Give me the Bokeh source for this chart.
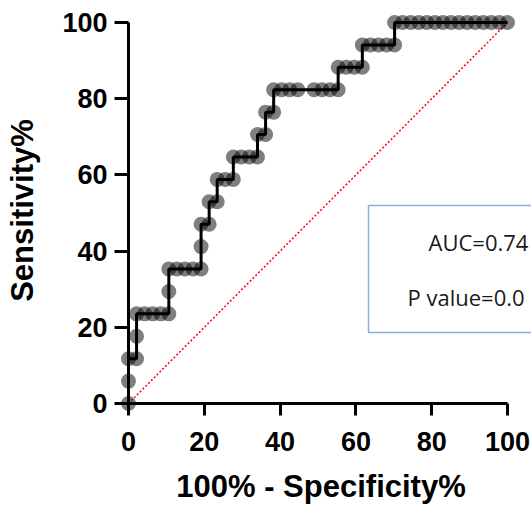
from bokeh.plotting import figure
from bokeh.models import Range1d, LinearAxis, FixedTicker, Label
from bokeh.embed import file_html
from bokeh.resources import INLINE

# ROC points: 100% - Specificity% (x) and Sensitivity% (y)
fpr = [0, 0, 0, 2.13, 2.13, 2.13, 4.26, 6.38, 8.51, 10.64,
       10.64, 10.64, 12.77, 14.89, 17.02, 19.15, 19.15, 19.15, 21.28, 21.28,
       23.40, 23.40, 25.53, 27.66, 27.66, 29.79, 31.91, 34.04, 34.04, 36.17,
       36.17, 38.30, 38.30, 40.43, 42.55, 44.68, 48.94, 51.06, 53.19, 55.32,
       55.32, 57.45, 59.57, 61.70, 61.70, 63.83, 65.96, 68.09, 70.21, 70.21,
       72.34, 74.47, 76.60, 78.72, 80.85, 82.98, 85.11, 87.23, 89.36, 91.49,
       93.62, 95.74, 97.87, 100]
tpr = [0, 5.88, 11.76, 11.76, 17.65, 23.53, 23.53, 23.53, 23.53, 23.53,
       29.41, 35.29, 35.29, 35.29, 35.29, 35.29, 41.18, 47.06, 47.06, 52.94,
       52.94, 58.82, 58.82, 58.82, 64.71, 64.71, 64.71, 64.71, 70.59, 70.59,
       76.47, 76.47, 82.35, 82.35, 82.35, 82.35, 82.35, 82.35, 82.35, 82.35,
       88.24, 88.24, 88.24, 88.24, 94.12, 94.12, 94.12, 94.12, 94.12, 100,
       100, 100, 100, 100, 100, 100, 100, 100, 100, 100,
       100, 100, 100, 100]
chance_x = [0, 100]
chance_y = [0, 100]
ticks = [0, 20, 40, 60, 80, 100]
x_title = "100% - Specificity%"
y_title = "Sensitivity%"
auc_text = "AUC=0.74"
p_text = "P value=0.0"

# pixel layout
W, H = 531, 510
BL, BR, BT, BB = 110, 0, 5, 95
X0PX, X100PX = 128, 507
Y0PX, Y100PX = 403, 22
sx = (X100PX - X0PX) / 100.0
sy = (Y0PX - Y100PX) / 100.0
xs = (BL - X0PX) / sx
xe = xs + (W - BL - BR) / sx
ye = 100 + (Y100PX - BT) / sy
ys = ye - (H - BT - BB) / sy

p = figure(width=W, height=H, x_range=Range1d(xs, xe), y_range=Range1d(ys, ye),
           x_axis_type=None, y_axis_type=None,
           min_border_left=BL, min_border_right=BR, min_border_top=BT, min_border_bottom=BB,
           toolbar_location=None, output_backend="svg", outline_line_color=None,
           background_fill_color="white", border_fill_color="white")


def line_axis(ax):
    # axis line + ticks drawn at data zero
    ax.fixed_location = 0
    ax.bounds = (0, 100)
    ax.ticker = FixedTicker(ticks=ticks)
    ax.major_label_overrides = {t: "" for t in ticks}
    ax.axis_line_width = 3
    ax.axis_line_color = "black"
    ax.major_tick_line_width = 3
    ax.major_tick_line_color = "black"
    ax.major_tick_out = 14
    ax.major_tick_in = 0
    ax.minor_tick_out = 0
    ax.minor_tick_in = 0


def label_axis(ax, label, standoff, lab_standoff):
    # tick labels and title at the frame edge
    ax.ticker = FixedTicker(ticks=ticks)
    ax.axis_label = label
    ax.axis_line_color = None
    ax.major_tick_line_color = None
    ax.minor_tick_line_color = None
    ax.major_tick_out = 0
    ax.major_tick_in = 0
    ax.minor_tick_out = 0
    ax.minor_tick_in = 0
    ax.major_label_text_font = "Liberation Sans"
    ax.major_label_text_font_style = "bold"
    ax.major_label_text_font_size = "27px"
    ax.major_label_text_color = "black"
    ax.major_label_standoff = standoff
    ax.axis_label_text_font = "Liberation Sans"
    ax.axis_label_text_font_style = "bold"
    ax.axis_label_text_font_size = "31px"
    ax.axis_label_text_color = "black"
    ax.axis_label_standoff = lab_standoff


xline = LinearAxis()
line_axis(xline)
p.add_layout(xline, "below")
yline = LinearAxis()
line_axis(yline)
p.add_layout(yline, "left")

xlab = LinearAxis()
label_axis(xlab, x_title, 16, 15)
p.add_layout(xlab, "below")
ylab = LinearAxis()
label_axis(ylab, y_title, 3, 19)
p.add_layout(ylab, "left")

# chance line
p.line(chance_x, chance_y, line_color="red", line_width=1.5, line_dash="2 2")

# ROC step line and points
p.scatter(fpr, tpr, size=15, fill_color="black", fill_alpha=0.5, line_color=None)
p.line(fpr, tpr, line_color="black", line_width=3)

# annotation box
p.quad(left=(368 - X0PX) / sx, right=xe + 10, bottom=(Y0PX - 332) / sy, top=(Y0PX - 205) / sy,
       fill_color="white", line_color="#8faadc", line_width=1.5)
p.add_layout(Label(x=(428 - X0PX) / sx, y=(Y0PX - 241) / sy, text=auc_text,
                   text_font="Open Sans", text_font_size="22px",
                   text_color="#1a1a1a", text_baseline="alphabetic"))
p.add_layout(Label(x=(407 - X0PX) / sx, y=(Y0PX - 296) / sy, text=p_text,
                   text_font="Open Sans", text_font_size="22px",
                   text_color="#1a1a1a", text_baseline="alphabetic"))

open("out.html", "w").write(file_html(p, INLINE))
